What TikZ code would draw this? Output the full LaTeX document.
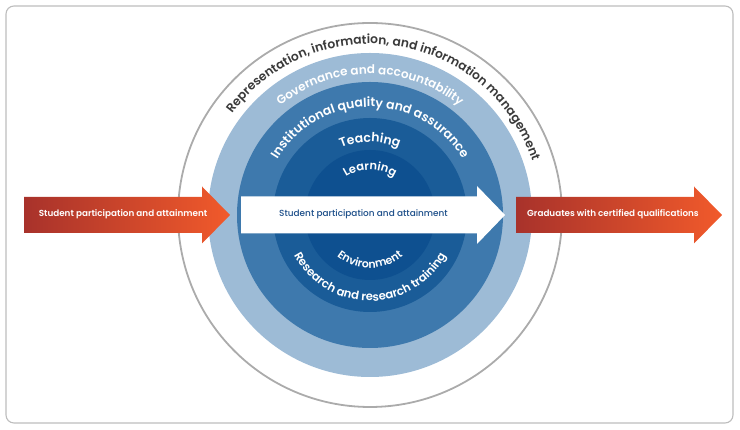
\documentclass[tikz,border=0pt]{standalone}
\usepackage{fontspec}
\setmainfont{Poppins}
\newfontfamily\popsm{Poppins Medium}
\newfontfamily\popsb{Poppins SemiBold}
\usetikzlibrary{decorations.text}
\definecolor{ringA}{HTML}{9DBBD6}
\definecolor{ringB}{HTML}{3E79AD}
\definecolor{ringC}{HTML}{1A5C98}
\definecolor{ringD}{HTML}{0E5090}
\definecolor{framegray}{HTML}{BDBDBD}
\definecolor{circgray}{HTML}{ABABAB}
\definecolor{txtgray}{HTML}{3A3A3A}
\definecolor{redA}{HTML}{A8322B}
\definecolor{redB}{HTML}{DF424B}
\definecolor{redC}{HTML}{F15A2B}
\definecolor{navytxt}{HTML}{1C4E89}
\tikzset{
  ring/.style={circle, inner sep=0pt, draw=none},
  redarrow/.style={left color=redA, middle color=redB, right color=redC},
  arrowtxt/.style={font=\popsb\fontsize{8.8}{10}\selectfont, text=white, inner sep=0pt},
  midtxt/.style={font=\popsm\fontsize{8.9}{10}\selectfont, text=navytxt, inner sep=0pt},
}
\begin{document}
\begin{tikzpicture}[x=1pt,y=1pt]
\useasboundingbox (0,0) rectangle (740,430);
\draw[framegray, line width=1.1pt, rounded corners=8pt] (6,7) rectangle (733,424);
\coordinate (C) at (370,215);
% rings
\node[ring, fill=ringA, minimum size=324pt] (gov) at (C) {};
\node[ring, fill=ringB, minimum size=266pt] (inst) at (C) {};
\node[ring, fill=ringC, minimum size=194pt] (teach) at (C) {};
\node[ring, fill=ringD, minimum size=130pt] (learn) at (C) {};
\node[ring, draw=circgray, line width=1.8pt, minimum size=384pt] (repr) at (C) {};
% curved texts (top, clockwise)
\path[decorate, decoration={text along path, text align=center,
  text={|\popsb\fontsize{12.3}{13}\selectfont\color{txtgray}|Representation, information, and information management}}]
  (C) ++(156:171) arc[start angle=156, end angle=6, radius=171];
\path[decorate, decoration={text along path, text align=center,
  text={|\popsb\fontsize{12}{13}\selectfont\color{white}|Governance and accountability}}]
  (C) ++(140:141) arc[start angle=140, end angle=40, radius=141];
\path[decorate, decoration={text along path, text align=center,
  text={|\popsb\fontsize{12.5}{13}\selectfont\color{white}|Institutional quality and assurance}}]
  (C) ++(165:108) arc[start angle=165, end angle=15, radius=108];
\path[decorate, decoration={text along path, text align=center,
  text={|\popsb\fontsize{12.5}{14}\selectfont\color{white}|Teaching}}]
  (C) ++(130:73) arc[start angle=130, end angle=50, radius=73];
\path[decorate, decoration={text along path, text align=center,
  text={|\popsb\fontsize{11.5}{13}\selectfont\color{white}|Learning}}]
  (C) ++(140:45) arc[start angle=140, end angle=40, radius=45];
% curved texts (bottom, counter-clockwise)
\path[decorate, decoration={text along path, text align=center,
  text={|\popsb\fontsize{11}{13}\selectfont\color{white}|Environment}}]
  (C) ++(200:53) arc[start angle=200, end angle=340, radius=53];
\path[decorate, decoration={text along path, text align=center,
  text={|\popsb\fontsize{11.6}{13}\selectfont\color{white}|Research and research training}}]
  (C) ++(190:86) arc[start angle=190, end angle=350, radius=86];
% white arrow
\fill[white] (241,196.5) -- (477,196.5) -- (477,186) -- (505,215) -- (477,244) -- (477,233.5) -- (241,233.5) -- cycle;
\node[midtxt] (midlabel) at (363.5,215.5) {Student participation and attainment};
% red arrows
\shade[redarrow] (24,197) -- (202,197) -- (202,186.5) -- (230,215) -- (202,243.5) -- (202,233) -- (24,233) -- cycle;
\node[arrowtxt] (inlabel) at (123,215.5) {Student participation and attainment};
\shade[redarrow] (516,197) -- (694,197) -- (694,186.5) -- (722,215) -- (694,243.5) -- (694,233) -- (516,233) -- cycle;
\node[arrowtxt] (outlabel) at (613,215.5) {Graduates with certified qualifications};
\end{tikzpicture}
\end{document}
